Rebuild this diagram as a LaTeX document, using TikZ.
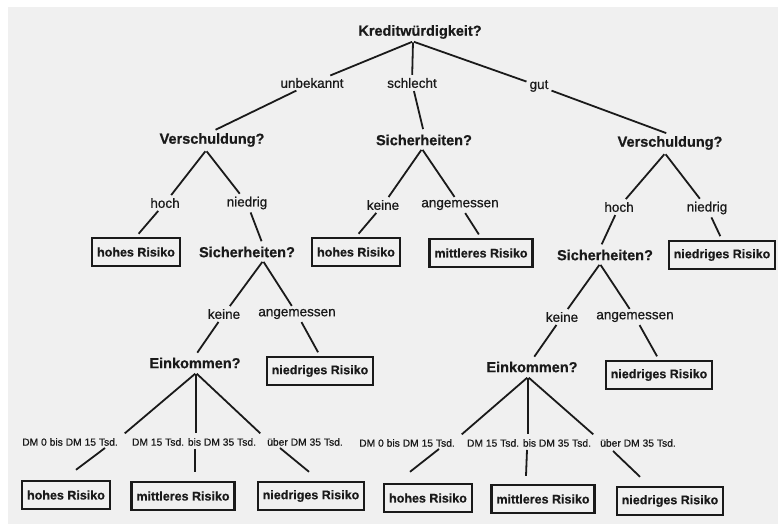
\documentclass[tikz,border=0pt]{standalone}
\usepackage{fontspec}
\setmainfont{Liberation Sans}
\newfontfamily\heavyfont[BoldFeatures={FakeBold=0.6}]{Liberation Sans}
\newfontfamily\medfont[FakeBold=0.7]{Liberation Sans}
\usetikzlibrary{calc}
\definecolor{paper}{HTML}{F0F0F0}
\definecolor{ink}{HTML}{1A1A1A}
\begin{document}
\begin{tikzpicture}[x=1pt,y=-1pt,
  q/.style={font=\heavyfont\fontsize{14.5}{16}\selectfont\bfseries, text=ink, inner sep=1.5pt},
  lab/.style={font=\medfont\fontsize{13.5}{15}\selectfont, text=ink, inner sep=2pt},
  sm/.style={font=\medfont\fontsize{10.3}{12}\selectfont, text=ink, inner sep=2pt},
  leaf/.style={draw=ink, line width=2.4pt, font=\heavyfont\fontsize{12.5}{14}\selectfont\bfseries, text=ink, inner xsep=5pt, minimum height=28pt},
  edge/.style={draw=ink, line width=1.8pt},
  up/.style={edge, shorten <=1pt, shorten >=1pt},
  dn/.style={edge, shorten <=1pt, shorten >=4pt},
  lo/.style={edge}]
\fill[white] (0,0) rectangle (778,524);
\fill[paper] (8,7) rectangle (778,524);
\useasboundingbox (0,0) rectangle (778,524);

% root level
\node[q] (root) at (420,32) {Kreditwürdigkeit?};
\node[lab] (unb) at (312,83) {unbekannt};
\node[lab] (sch) at (412,83) {schlecht};
\node[lab] (gut) at (539,86) {gut};
\node[q] (vA) at (212,140) {Verschuldung?};
\node[q] (sB) at (424,140) {Sicherheiten?};
\node[q] (vC) at (670,143) {Verschuldung?};
\draw[up] ($(root.south)+(-7,1)$) -- (unb);
\draw[up] ($(root.south)+(-7,1)$) -- (sch);
\draw[up] ($(root.south)+(-7,1)$) -- (gut);
\draw[dn] (unb) -- (vA.north);
\draw[dn] (sch) -- (sB.north);
\draw[dn] (gut) -- (vC.north);

% left subtree
\node[lab] (Ahoch) at (165,203) {hoch};
\node[lab] (Anied) at (247,203) {niedrig};
\node[leaf] (Ar0) at (136,252) {hohes Risiko};
\node[q] (sA) at (247,252) {Sicherheiten?};
\draw[up] ($(vA.south)+(-6,2)$) -- (Ahoch);
\draw[up] ($(vA.south)+(-6,2)$) -- (Anied);
\draw[dn] (Ahoch) -- (Ar0.north);
\draw[dn] (Anied) -- ($(sA.north)+(16,0)$);

\node[lab] (Akeine) at (224,314) {keine};
\node[lab] (Aang) at (297,314) {angemessen};
\node[q] (eA) at (195,363) {Einkommen?};
\node[leaf] (Ar4) at (320,371) {niedriges Risiko};
\draw[up] ($(sA.south)+(16,2)$) -- (Akeine);
\draw[up] ($(sA.south)+(16,2)$) -- (Aang);
\draw[dn] (Akeine) -- (eA.north);
\draw[dn] (Aang) -- (Ar4.north);

\node[sm] (Ad1) at (70,442) {DM 0 bis DM 15 Tsd.};
\node[sm] (Ad2) at (194,442) {DM 15 Tsd. bis DM 35 Tsd.};
\node[sm] (Ad3) at (305,442) {über DM 35 Tsd.};
\node[leaf] (Ar1) at (66,495) {hohes Risiko};
\node[leaf] (Ar2) at (183,496) {mittleres Risiko};
\node[leaf] (Ar3) at (311,496) {niedriges Risiko};
\draw[up] ($(eA.south)+(1,3)$) -- ($(Ad1.north east)+(4,-2)$);
\draw[up] ($(eA.south)+(1,3)$) -- ($(Ad2.north)+(2,-2)$);
\draw[up] ($(eA.south)+(1,3)$) -- ($(Ad3.north west)+(-4,-2)$);
\draw[lo] ($(Ad1.south)+(35,0)$) -- ($(Ar1.north)+(10,-10)$);
\draw[lo] ($(Ad2.south)+(1,1)$) -- ($(Ar2.north)+(12,-9)$);
\draw[lo] ($(Ad3.south)+(-25,0)$) -- ($(Ar3.north)+(-2,-9)$);

% middle subtree
\node[lab] (Bkeine) at (383,205) {keine};
\node[lab] (Bang) at (460,205) {angemessen};
\node[leaf] (Br1) at (356,252) {hohes Risiko};
\node[leaf] (Br2) at (481,253) {mittleres Risiko};
\draw[up] ($(sB.south)+(-2,2)$) -- (Bkeine);
\draw[up] ($(sB.south)+(-2,2)$) -- (Bang);
\draw[dn] (Bkeine) -- (Br1.north);
\draw[dn] (Bang) -- (Br2.north);

% right subtree
\node[lab] (Choch) at (619,207) {hoch};
\node[lab] (Cnied) at (707,208) {niedrig};
\node[q] (sC) at (605,255) {Sicherheiten?};
\node[leaf] (Cr0) at (722,255) {niedriges Risiko};
\draw[up] ($(vC.south)+(-5,2)$) -- (Choch);
\draw[up] ($(vC.south)+(-5,2)$) -- (Cnied);
\draw[dn] (Choch) -- ($(sC.north)+(-5,0)$);
\draw[dn] (Cnied) -- (Cr0.north);

\node[lab] (Ckeine) at (562,317) {keine};
\node[lab] (Cang) at (635,317) {angemessen};
\node[q] (eC) at (532,367) {Einkommen?};
\node[leaf] (Cr4) at (659,375) {niedriges Risiko};
\draw[up] ($(sC.south)+(-5,2)$) -- (Ckeine);
\draw[up] ($(sC.south)+(-5,2)$) -- (Cang);
\draw[dn] (Ckeine) -- (eC.north);
\draw[dn] (Cang) -- (Cr4.north);

\node[sm] (Cd1) at (407,443) {DM 0 bis DM 15 Tsd.};
\node[sm] (Cd2) at (529,443) {DM 15 Tsd. bis DM 35 Tsd.};
\node[sm] (Cd3) at (638,443) {über DM 35 Tsd.};
\node[leaf] (Cr1) at (428,498) {hohes Risiko};
\node[leaf] (Cr2) at (543,499) {mittleres Risiko};
\node[leaf] (Cr3) at (670,501) {niedriges Risiko};
\draw[up] ($(eC.south)+(-4,3)$) -- ($(Cd1.north east)+(4,-2)$);
\draw[up] ($(eC.south)+(-4,3)$) -- ($(Cd2.north)+(-1,-2)$);
\draw[up] ($(eC.south)+(-4,3)$) -- ($(Cd3.north west)+(-4,-2)$);
\draw[lo] ($(Cd1.south)+(32,0)$) -- ($(Cr1.north)+(-18,-11)$);
\draw[lo] ($(Cd2.south)+(-2,1)$) -- ($(Cr2.north)+(-17,-8)$);
\draw[lo] ($(Cd3.south)+(-25,2)$) -- ($(Cr3.north)+(-30,-9)$);
\end{tikzpicture}
\end{document}
